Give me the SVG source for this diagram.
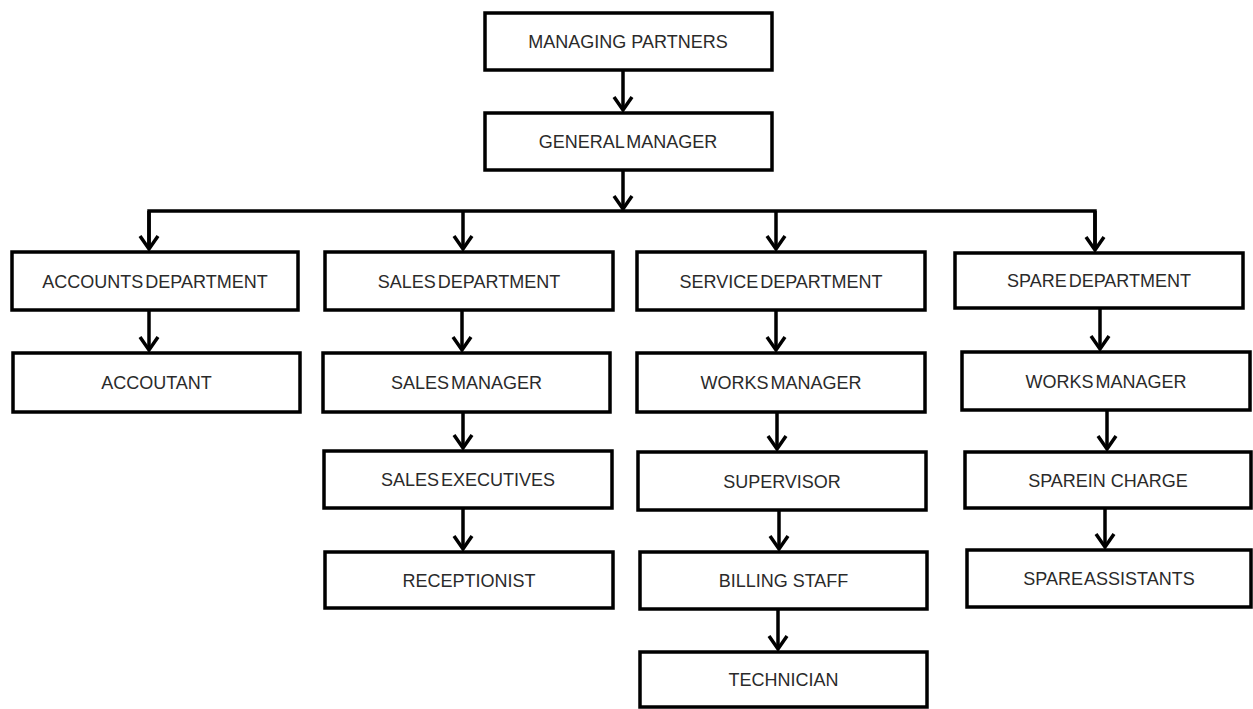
<svg xmlns="http://www.w3.org/2000/svg" width="1253" height="709" viewBox="0 0 1253 709">
<style>
  .box { fill: #ffffff; stroke: #000000; stroke-width: 3.5; }
  .lbl { font-family: "Liberation Sans", Arial, sans-serif; font-size: 18px; fill: #2a2a2a; text-anchor: middle; }
  .tight { word-spacing: -3px; }
  .conn { fill: none; stroke: #000000; stroke-width: 3.5; }
</style>
<defs>
  <marker id="arrow" markerUnits="userSpaceOnUse" markerWidth="30" markerHeight="30" refX="0" refY="0" orient="auto" overflow="visible" viewBox="-20 -15 30 30">
    <path d="M -13 -9 L 0 0 L -13 9" fill="none" stroke="#000000" stroke-width="3.5" stroke-linejoin="miter"/>
  </marker>
</defs>
<rect width="1253" height="709" fill="#ffffff"/>

<g id="connectors">
  <path class="conn" d="M 623 70 L 623 110" marker-end="url(#arrow)"/>
  <path class="conn" d="M 623 170 L 623 209" marker-end="url(#arrow)"/>
  <path class="conn" d="M 149 249 L 149 211 L 1095 211 L 1095 249"/>
  <path class="conn" d="M 149 211 L 149 249" marker-end="url(#arrow)"/>
  <path class="conn" d="M 463 211 L 463 249" marker-end="url(#arrow)"/>
  <path class="conn" d="M 776 211 L 776 249" marker-end="url(#arrow)"/>
  <path class="conn" d="M 1095 211 L 1095 250" marker-end="url(#arrow)"/>
  <path class="conn" d="M 149 310 L 149 350" marker-end="url(#arrow)"/>
  <path class="conn" d="M 462 310 L 462 350" marker-end="url(#arrow)"/>
  <path class="conn" d="M 463 412 L 463 448" marker-end="url(#arrow)"/>
  <path class="conn" d="M 463 508 L 463 549" marker-end="url(#arrow)"/>
  <path class="conn" d="M 776 310 L 776 350" marker-end="url(#arrow)"/>
  <path class="conn" d="M 777 412 L 777 449" marker-end="url(#arrow)"/>
  <path class="conn" d="M 779 510 L 779 549" marker-end="url(#arrow)"/>
  <path class="conn" d="M 778 609 L 778 649" marker-end="url(#arrow)"/>
  <path class="conn" d="M 1100 308 L 1100 349" marker-end="url(#arrow)"/>
  <path class="conn" d="M 1107 410 L 1107 449" marker-end="url(#arrow)"/>
  <path class="conn" d="M 1105 508 L 1105 547" marker-end="url(#arrow)"/>
</g>

<g id="managing-partners">
  <rect class="box" x="485" y="13" width="287" height="57"/>
  <text class="lbl" x="628" y="48">MANAGING PARTNERS</text>
</g>
<g id="general-manager">
  <rect class="box" x="485" y="113" width="287" height="57"/>
  <text class="lbl tight" x="628" y="148">GENERAL MANAGER</text>
</g>

<g id="accounts-department">
  <rect class="box" x="12" y="252" width="286" height="58"/>
  <text class="lbl tight" x="155" y="287.5">ACCOUNTS DEPARTMENT</text>
</g>
<g id="accoutant">
  <rect class="box" x="13" y="353" width="287" height="59"/>
  <text class="lbl" x="156.5" y="389">ACCOUTANT</text>
</g>

<g id="sales-department">
  <rect class="box" x="325" y="252" width="288" height="58"/>
  <text class="lbl tight" x="469" y="287.5">SALES DEPARTMENT</text>
</g>
<g id="sales-manager">
  <rect class="box" x="323" y="353" width="287" height="59"/>
  <text class="lbl tight" x="466.5" y="389">SALES MANAGER</text>
</g>
<g id="sales-executives">
  <rect class="box" x="324" y="451" width="288" height="57"/>
  <text class="lbl tight" x="468" y="486">SALES EXECUTIVES</text>
</g>
<g id="receptionist">
  <rect class="box" x="325" y="552" width="288" height="56"/>
  <text class="lbl" x="469" y="586.5">RECEPTIONIST</text>
</g>

<g id="service-department">
  <rect class="box" x="637" y="252" width="288" height="58"/>
  <text class="lbl tight" x="781" y="287.5">SERVICE DEPARTMENT</text>
</g>
<g id="service-works-manager">
  <rect class="box" x="637" y="353" width="288" height="59"/>
  <text class="lbl tight" x="781" y="389">WORKS MANAGER</text>
</g>
<g id="supervisor">
  <rect class="box" x="638" y="452" width="288" height="58"/>
  <text class="lbl" x="782" y="487.5">SUPERVISOR</text>
</g>
<g id="billing-staff">
  <rect class="box" x="640" y="552" width="287" height="57"/>
  <text class="lbl" x="783.5" y="587">BILLING STAFF</text>
</g>
<g id="technician">
  <rect class="box" x="640" y="652" width="287" height="55"/>
  <text class="lbl" x="783.5" y="686">TECHNICIAN</text>
</g>

<g id="spare-department">
  <rect class="box" x="955" y="253" width="288" height="55"/>
  <text class="lbl tight" x="1099" y="287">SPARE DEPARTMENT</text>
</g>
<g id="spare-works-manager">
  <rect class="box" x="962" y="352" width="288" height="58"/>
  <text class="lbl tight" x="1106" y="387.5">WORKS MANAGER</text>
</g>
<g id="spare-in-charge">
  <rect class="box" x="965" y="452" width="286" height="56"/>
  <text class="lbl" x="1108" y="486.5">SPAREIN CHARGE</text>
</g>
<g id="spare-assistants">
  <rect class="box" x="967" y="550" width="284" height="57"/>
  <text class="lbl tight" x="1109" y="585">SPARE ASSISTANTS</text>
</g>
</svg>
